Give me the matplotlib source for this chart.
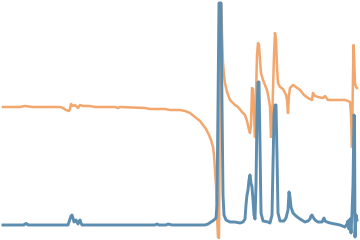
import numpy as np
import matplotlib
matplotlib.use('Agg')
import matplotlib.pyplot as plt

# spectrum: position and height above the blue baseline
blue_x = [3, 24, 25, 26, 27, 28, 68, 69, 70, 71, 72, 73, 74, 75, 76, 77, 78, 79, 80, 81, 82,
          155, 157, 159, 166, 168, 170, 172, 205, 208, 211, 214, 216, 217, 218, 219, 221, 222,
          223, 224, 226, 230, 235, 240, 243, 245, 246, 247, 248, 249, 250, 251, 252, 253, 254,
          255, 256, 257, 258, 259, 260, 261, 263, 268, 270, 272, 273, 274, 275, 276, 277, 278,
          280, 284, 286, 288, 289, 290, 291, 293, 296, 300, 305, 308, 310, 311, 312, 313, 315,
          318, 322, 323, 324, 325, 327, 330, 335, 340, 345, 347, 348, 349, 350, 351, 352, 353,
          354, 354.5, 355, 356, 357]
blue_y = [0, 0, 1, 1.5, 1, 0, 0, 3, 6, 9, 10, 7, 3, 4, 5, 3, 1, 3, 5, 2, 0,
          0, 1, 0, 0, 1, 0.5, 0, 0, 1, 3, 5, 7, 20, 120, 222, 222, 120,
          30, 10, 5, 3, 3, 2, 3, 6, 20, 30, 35, 45, 50, 42, 38, 25, 10,
          6, 40, 110, 143, 143, 80, 12, 4, 3, 2, 10, 60, 110, 120, 120, 70, 12,
          4, 4, 7, 15, 33, 28, 18, 12, 9, 6, 3, 4, 6, 9, 10, 8, 5,
          3, 3, 5, 7, 4, 3, 2, 1, 0, -2, 1, 4, -4, 6, -8, 12, 40,
          110, 108, -12, 10, 5]

orange_x = [3, 20, 25, 33, 60, 63, 66, 69, 70, 71, 73, 75, 77, 78, 80, 83, 90, 95, 115, 118,
            120, 145, 150, 165, 170, 180, 185, 190, 195, 200, 203, 206, 209, 211, 213, 214,
            215, 216, 217, 218, 219, 219.5, 220, 221, 221.5, 222, 223, 224, 225, 227, 230, 235, 238,
            242, 245, 247, 249, 250, 251, 252, 253, 254, 255, 256, 257, 258, 259, 260, 261,
            263, 267, 269, 270, 271, 272, 274, 275, 276, 277, 278, 280, 283, 286, 287, 288,
            289, 290, 293, 296, 300, 304, 308, 312, 313, 315, 318, 323, 325, 328, 335, 345,
            348, 350, 351, 352, 353, 353.5, 354, 355, 356, 357]
orange_y = [118, 118, 119, 118, 118, 117, 115, 114, 116, 121, 119, 120, 118, 117, 120, 119, 119, 118, 118, 117,
            118, 117, 116, 116, 115, 115, 114, 112, 108, 104, 100, 96, 90, 85, 78, 70,
            55, 40, 10, -12, -13, 60, 200, 222, 215, 190, 162, 150, 142, 133, 125, 120, 118,
            113, 110, 104, 95, 92, 100, 137, 136, 110, 88, 130, 170, 182, 180, 165, 152,
            145, 135, 125, 118, 88, 100, 170, 192, 185, 158, 142, 138, 136, 130, 125, 112,
            130, 137, 140, 138, 135, 130, 127, 125, 132, 129, 128, 127, 129, 125, 125, 125,
            124, 123, 110, 78, 150, 180, 170, 142, 138, 137]

fig = plt.figure(figsize=(3.6, 2.4), dpi=100)
ax = fig.add_axes([0, 0, 1, 1])
ax.plot(orange_x, orange_y, color='#f2a76e', linewidth=1.8)
ax.plot(blue_x, blue_y, color='#5d8daf', linewidth=2.1)
ax.set_xlim(0, 360)
ax.set_ylim(-15, 225)
ax.axis('off')
fig.savefig('out.png', dpi=100)
